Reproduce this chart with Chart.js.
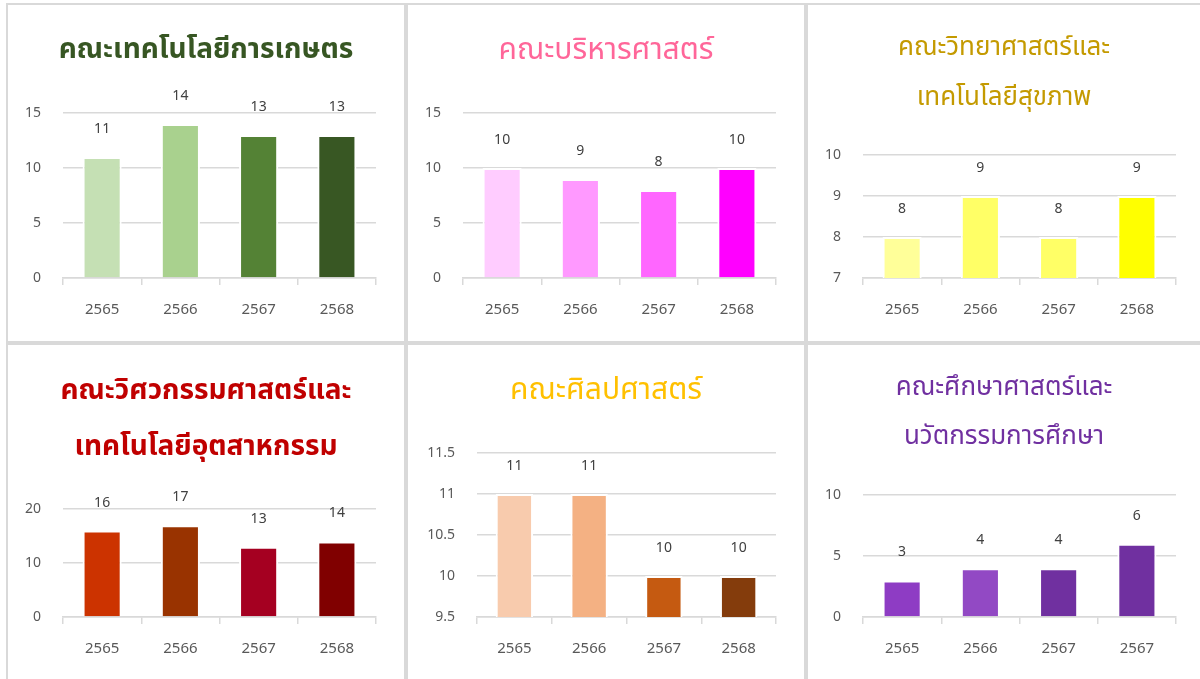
<!DOCTYPE html>
<html>
<head>
<meta charset="utf-8">
<script src="https://cdn.jsdelivr.net/npm/chart.js@4.4.0/dist/chart.umd.min.js"></script>
<style>
body { margin: 0; background: #fff; }
#wrap { position: absolute; left: 6px; top: 3px; width: 1194px; height: 676px; background: #d9d9d9; }
.cell { position: absolute; background: #fff; }
canvas { display: block; }
</style>
</head>
<body>
<div id="wrap">
  <div class="cell" style="left:2px;top:2px;width:396px;height:336px"><canvas id="agri" width="396" height="336"></canvas></div>
  <div class="cell" style="left:402px;top:2px;width:396px;height:336px"><canvas id="biz" width="396" height="336"></canvas></div>
  <div class="cell" style="left:802px;top:2px;width:392px;height:336px"><canvas id="sci" width="392" height="336"></canvas></div>
  <div class="cell" style="left:2px;top:342px;width:396px;height:334px"><canvas id="eng" width="396" height="334"></canvas></div>
  <div class="cell" style="left:402px;top:342px;width:396px;height:334px"><canvas id="arts" width="396" height="334"></canvas></div>
  <div class="cell" style="left:802px;top:342px;width:392px;height:334px"><canvas id="edu" width="392" height="334"></canvas></div>
</div>
<script>
// data
const years = ['2565', '2566', '2567', '2568'];
const eduYears = ['2565', '2566', '2567', '2567'];

const agriValues = [11, 14, 13, 13];
const bizValues = [10, 9, 8, 10];
const sciValues = [8, 9, 8, 9];
const engValues = [16, 17, 13, 14];
const artsValues = [11, 11, 10, 10];
const eduValues = [3, 4, 4, 6];

// y axis [min, max, step]
const agriRange = [0, 15, 5];
const bizRange = [0, 15, 5];
const sciRange = [7, 10, 1];
const engRange = [0, 20, 10];
const artsRange = [9.5, 11.5, 0.5];
const eduRange = [0, 10, 5];

const thaiFont = "'Noto Sans Thai', 'Leelawadee UI', Tahoma, 'Noto Sans', sans-serif";
const numFont = "'Noto Sans', sans-serif";

// panel title drawn at fixed spots
function panelTitle(lines, ys, size, weight, color) {
    return {
        id: 'panelTitle',
        afterDraw(chart) {
            const ctx = chart.ctx;
            ctx.save();
            ctx.font = weight + ' ' + size + 'px ' + thaiFont;
            ctx.fillStyle = color;
            ctx.textAlign = 'center';
            ctx.textBaseline = 'middle';
            lines.forEach((t, i) => ctx.fillText(t, chart.width / 2, ys[i]));
            ctx.restore();
        }
    };
}

// numbers above the bars
const valueLabels = {
    id: 'valueLabels',
    afterDatasetsDraw(chart) {
        const ctx = chart.ctx;
        const values = chart.data.datasets[0].data;
        ctx.save();
        ctx.font = '14px ' + numFont;
        ctx.fillStyle = '#404040';
        ctx.textAlign = 'center';
        ctx.textBaseline = 'middle';
        chart.getDatasetMeta(0).data.forEach((bar, i) => {
            ctx.fillText(values[i], bar.x, bar.y - 28);
        });
        ctx.restore();
    }
};

function makeChart(id, labels, values, colors, range, title, box) {
    return new Chart(document.getElementById(id), {
        type: 'bar',
        data: {
            labels: labels,
            datasets: [{
                data: values,
                backgroundColor: colors,
                borderColor: '#ffffff',
                borderWidth: 2,
                barPercentage: 0.5,
                categoryPercentage: 1
            }]
        },
        options: {
            responsive: false,
            animation: false,
            layout: { padding: { top: box.top, right: box.right, left: 0, bottom: 0 } },
            plugins: { legend: { display: false }, tooltip: { enabled: false } },
            scales: {
                x: {
                    grid: { offset: true, drawOnChartArea: false, color: '#d9d9d9', lineWidth: 1.5, tickLength: 7 },
                    border: { color: '#d9d9d9', width: 1.5 },
                    ticks: { color: '#595959', font: { size: 15, family: numFont }, padding: 16 },
                    afterFit: s => { s.height = box.axisH; }
                },
                y: {
                    min: range[0],
                    max: range[1],
                    ticks: {
                        stepSize: range[2],
                        color: '#595959',
                        font: { size: 14, family: numFont },
                        padding: 22,
                        callback: v => String(v)
                    },
                    grid: { color: '#d9d9d9', lineWidth: 1.5, drawTicks: false },
                    border: { display: false },
                    afterFit: s => { s.width = box.left; }
                }
            }
        },
        plugins: [valueLabels, title]
    });
}

makeChart('agri', years, agriValues, ['#C5E0B4', '#A9D18E', '#548235', '#385723'], agriRange,
    panelTitle(['คณะเทคโนโลยีการเกษตร'], [47], 28, 'bold', '#375623'),
    { top: 108, right: 28, left: 55, axisH: 63 });

makeChart('biz', years, bizValues, ['#FFCCFF', '#FF99FF', '#FF66FF', '#FF00FF'], bizRange,
    panelTitle(['คณะบริหารศาสตร์'], [48], 30, 'normal', '#FF6699'),
    { top: 108, right: 28, left: 55, axisH: 63 });

makeChart('sci', years, sciValues, ['#FFFF99', '#FFFF66', '#FFFF66', '#FFFF00'], sciRange,
    panelTitle(['คณะวิทยาศาสตร์และ', 'เทคโนโลยีสุขภาพ'], [45, 95], 26, 'normal', '#C49A00'),
    { top: 150, right: 24, left: 55, axisH: 63 });

makeChart('eng', years, engValues, ['#CC3300', '#993300', '#A50021', '#800000'], engRange,
    panelTitle(['คณะวิศวกรรมศาสตร์และ', 'เทคโนโลยีอุตสาหกรรม'], [48, 104], 28, 'bold', '#C00000'),
    { top: 164, right: 28, left: 55, axisH: 62 });

makeChart('arts', years, artsValues, ['#F8CBAD', '#F4B183', '#C55A11', '#843C0C'], artsRange,
    panelTitle(['คณะศิลปศาสตร์'], [48], 30, 'normal', '#FFC000'),
    { top: 108, right: 28, left: 69, axisH: 62 });

makeChart('edu', eduYears, eduValues, ['#8E3CC4', '#9249C4', '#7030A0', '#7030A0'], eduRange,
    panelTitle(['คณะศึกษาศาสตร์และ', 'นวัตกรรมการศึกษา'], [45, 94], 26, 'normal', '#7030A0'),
    { top: 150, right: 24, left: 55, axisH: 62 });
</script>
</body>
</html>
